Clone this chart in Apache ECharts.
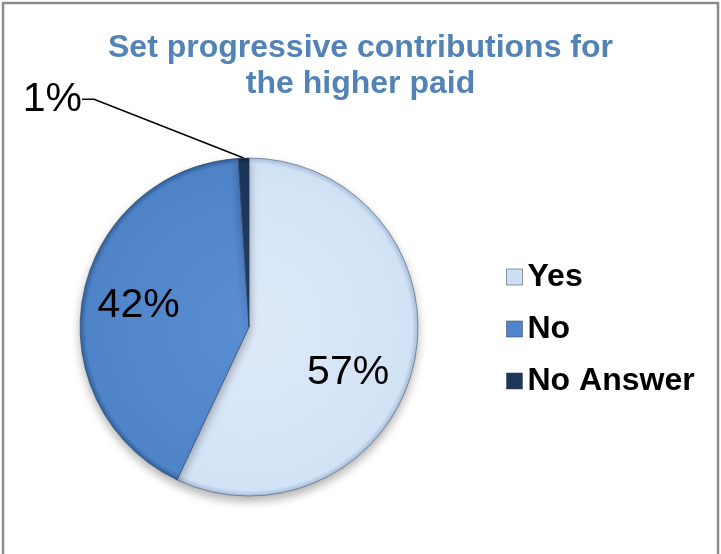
<!DOCTYPE html>
<html>
<head>
<meta charset="utf-8">
<script src="https://cdn.jsdelivr.net/npm/echarts@6/dist/echarts.min.js"></script>
<style>
  html, body { margin: 0; padding: 0; background: #ffffff; }
  #chart { width: 721px; height: 554px; }
</style>
</head>
<body>
<div id="chart"></div>
<script>
// Survey answers and their shares (percent)
const categories = ['Yes', 'No', 'No Answer'];
const shares = [57, 42, 1];
const titleLines = ['Set progressive contributions for', 'the higher paid'];

// Pie geometry (pixels)
const CX = 249, CY = 327, R = 169;

// Per-slice fill: centre tone, body tone, rim tone (bevelled look)
const fills = [
  ['#dde9f8', '#d3e3f6', '#a8bedb'],
  ['#5a8fd4', '#4f84c9', '#31609a'],
  ['#24416a', '#1c375b', '#0f223b']
];
const legendFills = ['#cfdff3', '#4f86cb', '#1c375b'];

// Where each percentage sits: fraction of radius and an angular nudge (deg)
const labelReach = [0.645, 0.665, 1.78];
const labelTurn = [12, 0, -39];

const total = shares.reduce((a, b) => a + b, 0);

function labelSpot(i) {
  let start = 0;
  for (let k = 0; k < i; k++) start += shares[k];
  const mid = (start + shares[i] / 2) / total * 360 + labelTurn[i];
  const rad = mid * Math.PI / 180;
  const d = R * labelReach[i];
  return [CX + d * Math.sin(rad), CY - d * Math.cos(rad)];
}

function sliceFill(i) {
  const f = fills[i];
  return new echarts.graphic.RadialGradient(CX, CY, R, [
    { offset: 0, color: f[0] },
    { offset: 0.9, color: f[1] },
    { offset: 0.965, color: f[1] },
    { offset: 1, color: f[2] }
  ], true);
}

const pieData = categories.map((name, i) => ({
  name: name,
  value: shares[i],
  itemStyle: { color: sliceFill(i) },
  label: { position: i === 2 ? 'outside' : 'inside' },
  labelLine: { show: i === 2 }
}));

const chart = echarts.init(document.getElementById('chart'), null, { renderer: 'canvas' });

chart.setOption({
  backgroundColor: '#ffffff',
  animation: false,
  graphic: [{
    type: 'rect',
    shape: { x: 3, y: 3, width: 715, height: 620 },
    style: { fill: 'none', stroke: '#8c8c8c', lineWidth: 2.5 },
    silent: true,
    z: -10
  }],
  title: {
    text: titleLines.join('\n'),
    left: 'center',
    top: 25,
    textStyle: {
      fontFamily: '"Liberation Sans", Arial, sans-serif',
      fontSize: 32,
      fontWeight: 'bold',
      color: '#5382b6',
      lineHeight: 36
    }
  },
  legend: {
    orient: 'vertical',
    left: 506,
    top: 261,
    padding: 0,
    itemGap: 20,
    itemWidth: 16,
    itemHeight: 16,
    icon: 'rect',
    selectedMode: false,
    data: categories.map((name, i) => ({
      name: name,
      itemStyle: { color: legendFills[i], borderColor: 'rgba(60,70,90,0.55)', borderWidth: 1 }
    })),
    textStyle: {
      fontFamily: '"Liberation Sans", Arial, sans-serif',
      fontSize: 32,
      fontWeight: 'bold',
      color: '#000000',
      padding: [0, 0, 0, 0]
    }
  },
  series: [{
    type: 'pie',
    center: [CX, CY],
    radius: [0, R],
    startAngle: 90,
    clockwise: true,
    avoidLabelOverlap: false,
    silent: true,
    data: pieData,
    itemStyle: {
      borderColor: 'rgba(40,55,80,0.45)',
      borderWidth: 1,
      shadowBlur: 10,
      shadowOffsetY: 5,
      shadowColor: 'rgba(0,0,0,0.3)'
    },
    label: {
      show: true,
      formatter: '{c}%',
      fontFamily: '"Liberation Sans", Arial, sans-serif',
      fontSize: 41,
      color: '#000000'
    },
    labelLine: {
      length: 20,
      length2: 12,
      smooth: false,
      lineStyle: { color: '#000000', width: 1.6 }
    },
    labelLayout: function (params) {
      const p = labelSpot(params.dataIndex);
      return { x: p[0], y: p[1], align: 'center', verticalAlign: 'middle' };
    }
  }]
});
</script>
</body>
</html>
